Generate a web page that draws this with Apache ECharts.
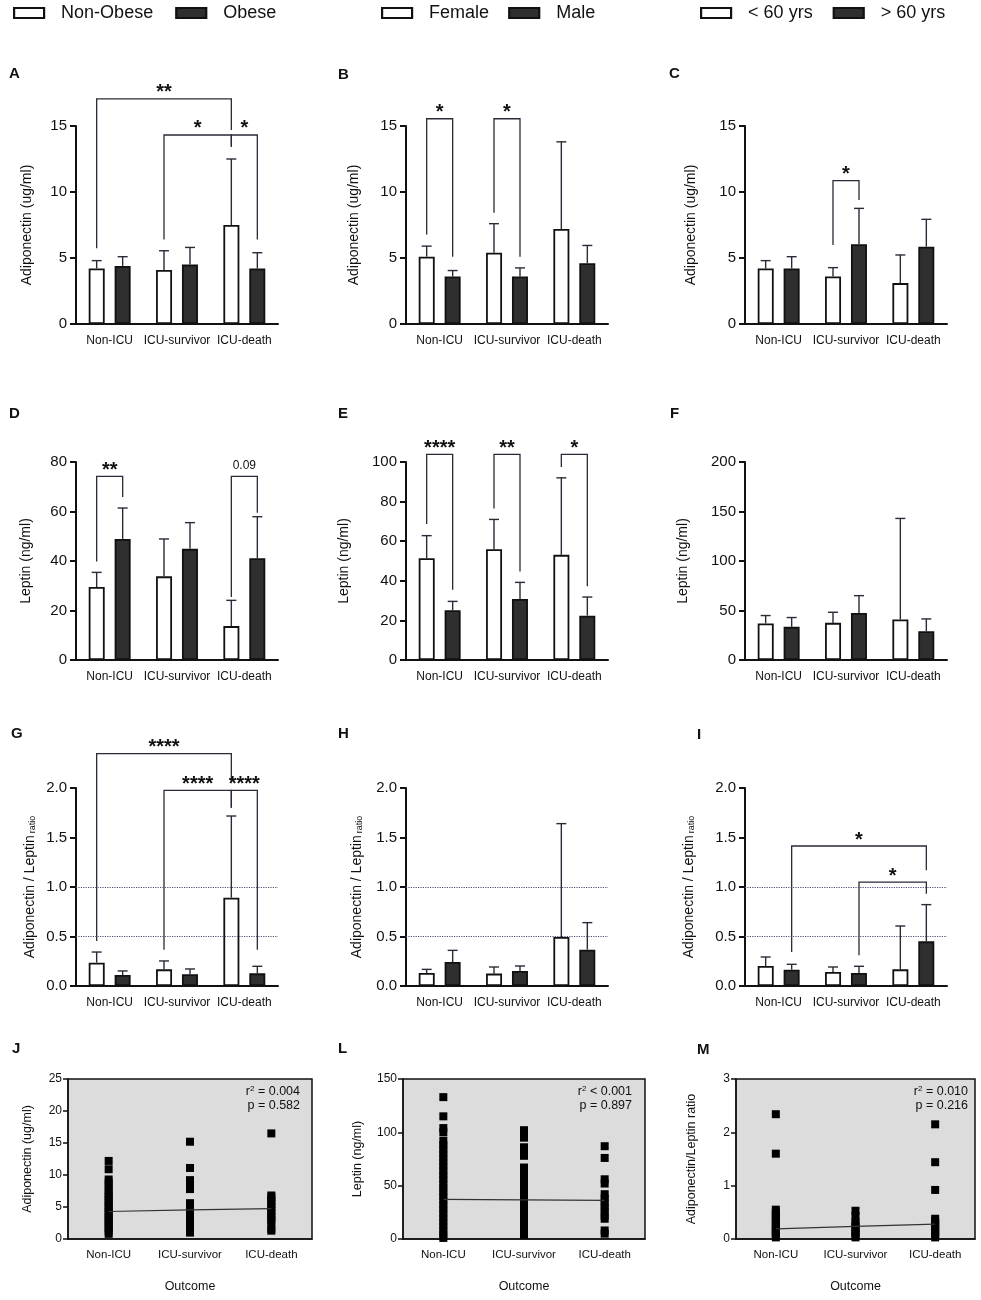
<!DOCTYPE html>
<html lang="en">
<head>
    <meta charset="UTF-8">
    <title>Adiponectin, leptin and ratio by outcome</title>
    <script src="https://cdn.jsdelivr.net/npm/echarts@6/dist/echarts.min.js"></script>
    <style>
        body { margin: 0; background: #fff; }
        #main { width: 981px; height: 1300px; }
    </style>
</head>
<body>
    <div id="main"></div>
    <script>
        // ---- data ----
        const categories = ['Non-ICU', 'ICU-survivor', 'ICU-death'];

        // A: adiponectin (ug/ml) by obesity
        const adipoNonObese = [4.2, 4.1, 7.5];
        const adipoNonObeseErr = [4.8, 5.55, 12.5];
        const adipoObese = [4.4, 4.5, 4.2];
        const adipoObeseErr = [5.1, 5.8, 5.4];
        // B: adiponectin by sex
        const adipoFemale = [5.1, 5.4, 7.2];
        const adipoFemaleErr = [5.9, 7.6, 13.8];
        const adipoMale = [3.6, 3.6, 4.6];
        const adipoMaleErr = [4.05, 4.25, 5.95];
        // C: adiponectin by age
        const adipoUnder60 = [4.2, 3.6, 3.1];
        const adipoUnder60Err = [4.8, 4.27, 5.23];
        const adipoOver60 = [4.2, 6.05, 5.86];
        const adipoOver60Err = [5.1, 8.76, 7.93];
        // D: leptin (ng/ml) by obesity
        const leptinNonObese = [29.5, 33.8, 13.7];
        const leptinNonObeseErr = [35.4, 48.9, 24.1];
        const leptinObese = [48.9, 44.9, 41.1];
        const leptinObeseErr = [61.4, 55.5, 57.9];
        // E: leptin by sex
        const leptinFemale = [51.4, 55.9, 53.1];
        const leptinFemaleErr = [62.8, 71.0, 92.0];
        const leptinMale = [25.1, 30.8, 22.4];
        const leptinMaleErr = [29.6, 39.2, 31.8];
        // F: leptin by age
        const leptinUnder60 = [36.9, 37.5, 40.9];
        const leptinUnder60Err = [44.9, 48.2, 143];
        const leptinOver60 = [33.5, 47.6, 29.1];
        const leptinOver60Err = [42.9, 65.0, 41.5];
        // G: adiponectin / leptin ratio by obesity
        const ratioNonObese = [0.236, 0.168, 0.892];
        const ratioNonObeseErr = [0.343, 0.253, 1.717];
        const ratioObese = [0.111, 0.118, 0.128];
        const ratioObeseErr = [0.152, 0.172, 0.199];
        // H: ratio by sex
        const ratioFemale = [0.131, 0.125, 0.495];
        const ratioFemaleErr = [0.168, 0.192, 1.64];
        const ratioMale = [0.242, 0.152, 0.367];
        const ratioMaleErr = [0.36, 0.202, 0.64];
        // I: ratio by age
        const ratioUnder60 = [0.202, 0.141, 0.168];
        const ratioUnder60Err = [0.293, 0.192, 0.606];
        const ratioOver60 = [0.165, 0.131, 0.451];
        const ratioOver60Err = [0.219, 0.199, 0.822];
        const ratioRefLines = [0.5, 1.0];

        // significance brackets: [fromCat, fromBar, toCat, toBar, top, fromEnd, toEnd, label]
        const bracketsA = [[0, 0, 2, 0, 17.05, 5.73, 14.7, '**'], [1, 0, 2, 0, 14.32, 6.41, 13.43, '*'], [2, 0, 2, 1, 14.32, 13.43, 6.41, '*']];
        const bracketsB = [[0, 0, 0, 1, 15.55, 6.78, 5.09, '*'], [1, 0, 1, 1, 15.55, 8.42, 5.09, '*']];
        const bracketsC = [[1, 0, 1, 1, 10.86, 5.98, 9.39, '*']];
        const bracketsD = [[0, 0, 0, 1, 74.2, 39.8, 65.9, '**'], [2, 0, 2, 1, 74.2, 25.5, 59.5, '0.09']];
        const bracketsE = [[0, 0, 0, 1, 103.9, 68.7, 35.5, '****'], [1, 0, 1, 1, 103.9, 76.5, 44.7, '**'], [2, 0, 2, 1, 103.9, 97.5, 37.2, '*']];
        const bracketsG = [[0, 0, 2, 0, 2.347, 0.455, 2.06, '****'], [1, 0, 2, 0, 1.976, 0.367, 1.80, '****'], [2, 0, 2, 1, 1.976, 1.80, 0.367, '****']];
        const bracketsI = [[0, 1, 2, 1, 1.414, 0.343, 1.168, '*'], [1, 1, 2, 1, 1.05, 0.31, 0.933, '*']];

        // J: adiponectin individual values
        const jNonIcu = [0.8, 1.2, 1.7, 2.1, 2.6, 3.0, 3.4, 3.9, 4.3, 4.8, 5.2, 5.7, 6.1, 6.6, 7.1, 7.6, 8.2, 8.8, 9.3, 10.9, 12.2];
        const jSurvivor = [1.0, 1.5, 2.0, 2.5, 3.0, 3.5, 3.9, 4.4, 4.8, 5.2, 5.6, 7.8, 8.7, 9.2, 11.1, 15.2];
        const jDeath = [1.3, 1.6, 2.6, 3.0, 3.5, 4.0, 4.5, 5.0, 5.5, 6.0, 6.5, 6.8, 16.5];
        const jFit = [4.3, 4.55, 4.75];
        // L: leptin individual values
        const lNonIcu = [1, 4, 8, 12, 16, 20, 24, 28, 32, 36, 40, 44, 48, 52, 56, 60, 64, 68, 72, 76, 80, 84, 88, 92, 100, 104, 115, 133];
        const lSurvivor = [4, 8, 12, 16, 20, 24, 28, 32, 36, 40, 44, 48, 52, 56, 60, 64, 67, 78, 82, 86, 95, 102];
        const lDeath = [5, 8, 19, 22, 26, 30, 34, 38, 42, 52, 56, 76, 87];
        const lFit = [37.1, 36.7, 36.2];
        // M: ratio individual values
        const mNonIcu = [0.03, 0.08, 0.12, 0.16, 0.2, 0.25, 0.3, 0.35, 0.4, 0.45, 0.5, 0.55, 1.6, 2.34];
        const mSurvivor = [0.03, 0.08, 0.12, 0.17, 0.22, 0.27, 0.32, 0.43, 0.53];
        const mDeath = [0.03, 0.08, 0.13, 0.18, 0.23, 0.28, 0.33, 0.38, 0.92, 1.44, 2.15];
        const mFit = [0.19, 0.235, 0.28];

        // ---- drawing ----
        const FONT = 'Arial, "Liberation Sans", Helvetica, sans-serif';
        const INK = '#111';
        const LINE = '#2a2a38';
        const BAR_W = 16, BAR_OFF = 13;
        const WHITE = '#ffffff', DARK = '#2f2f2f';

        var chart = echarts.init(document.getElementById('main'));
        var option = {
            animation: false,
            backgroundColor: '#fff',
            textStyle: { fontFamily: FONT, color: INK },
            legend: [],
            grid: [], xAxis: [], yAxis: [], series: [], graphic: []
        };

        const nameRich = {
            n: { fontSize: 14, color: INK, lineHeight: 18, verticalAlign: 'bottom' },
            s: { fontSize: 9, color: INK, lineHeight: 9, verticalAlign: 'bottom', padding: [0, 0, 0, 2] }
        };

        function errorSeries(idx, mean, top, side) {
            return {
                type: 'custom', xAxisIndex: idx, yAxisIndex: idx, clip: false, silent: true, z: 3,
                data: mean.map((m, k) => [k, top[k], m]),
                encode: { x: 0, y: 1 },
                renderItem: function (params, api) {
                    const x = api.coord([api.value(0), 0])[0] + side * BAR_OFF;
                    const y0 = api.coord([api.value(0), api.value(2)])[1];
                    const y1 = api.coord([api.value(0), api.value(1)])[1];
                    const st = { stroke: LINE, lineWidth: 1.4 };
                    return {
                        type: 'group', children: [
                            { type: 'line', shape: { x1: x, y1: y0, x2: x, y2: y1 }, style: st },
                            { type: 'line', shape: { x1: x - 5, y1: y1, x2: x + 5, y2: y1 }, style: st }
                        ]
                    };
                }
            };
        }

        function bracketSeries(idx, list) {
            return {
                type: 'custom', xAxisIndex: idx, yAxisIndex: idx, clip: false, silent: true, z: 4,
                data: list.map(b => [b[0], b[4]]),
                encode: { x: 0, y: 1 },
                renderItem: function (params, api) {
                    const b = list[params.dataIndex];
                    const xa = api.coord([b[0], 0])[0] + (b[1] ? 1 : -1) * BAR_OFF;
                    const xb = api.coord([b[2], 0])[0] + (b[3] ? 1 : -1) * BAR_OFF;
                    const yt = api.coord([0, b[4]])[1];
                    const ya = api.coord([0, b[5]])[1];
                    const yb = api.coord([0, b[6]])[1];
                    const stars = b[7].charAt(0) === '*';
                    return {
                        type: 'group', children: [
                            {
                                type: 'polyline',
                                shape: { points: [[xa, ya], [xa, yt], [xb, yt], [xb, yb]] },
                                style: { stroke: LINE, lineWidth: 1.3, fill: null }
                            },
                            {
                                type: 'text',
                                style: {
                                    x: (xa + xb) / 2, y: stars ? yt - 6 : yt - 11, text: b[7],
                                    align: 'center', verticalAlign: 'middle', fontFamily: FONT,
                                    fontSize: stars ? 20 : 12, fontWeight: stars ? 'bold' : 'normal', fill: INK
                                }
                            }
                        ]
                    };
                }
            };
        }

        function addBarPanel(p) {
            const idx = option.grid.length;
            option.grid.push({ left: p.left, top: p.top, width: 202, height: 198 });
            option.xAxis.push({
                type: 'category', gridIndex: idx, data: categories,
                axisLine: { lineStyle: { color: INK, width: 2 } },
                axisTick: { alignWithLabel: true, length: 6, lineStyle: { color: INK, width: 2 } },
                axisLabel: { color: INK, fontSize: 12, margin: 11, interval: 0 }
            });
            option.yAxis.push({
                type: 'value', gridIndex: idx, min: 0, max: p.max, interval: p.interval,
                name: p.name, nameLocation: 'middle', nameGap: p.nameGap,
                nameTextStyle: { fontSize: 14, color: INK, rich: nameRich },
                axisLine: { show: true, lineStyle: { color: INK, width: 2 } },
                axisTick: { show: true, length: 6, lineStyle: { color: INK, width: 2 } },
                axisLabel: { color: INK, fontSize: 15, margin: 9, formatter: p.fmt },
                splitLine: { show: false }
            });
            p.groups.forEach(function (g, k) {
                const s = {
                    type: 'bar', name: g.name, xAxisIndex: idx, yAxisIndex: idx, data: g.mean,
                    barWidth: BAR_W, barGap: '62%', z: 2,
                    itemStyle: { color: g.fill, borderColor: INK, borderWidth: 1.8 }
                };
                if (k === 0 && p.refLines) {
                    s.markLine = {
                        silent: true, symbol: 'none', label: { show: false },
                        lineStyle: { type: 'dotted', color: '#50507a', width: 1.2 },
                        data: p.refLines.map(v => ({ yAxis: v }))
                    };
                }
                option.series.push(s);
            });
            p.groups.forEach(function (g, k) {
                option.series.push(errorSeries(idx, g.mean, g.err, k === 0 ? -1 : 1));
            });
            if (p.brackets) option.series.push(bracketSeries(idx, p.brackets));
        }

        function addScatterPanel(p) {
            const idx = option.grid.length;
            option.grid.push({
                left: p.left, top: 1079, width: p.width, height: 160, show: true,
                backgroundColor: '#dcdcdc', borderColor: INK, borderWidth: 1.5
            });
            option.xAxis.push({
                type: 'category', gridIndex: idx, data: categories,
                name: 'Outcome', nameLocation: 'middle', nameGap: 41,
                nameTextStyle: { fontSize: 12.5, color: INK },
                axisLine: { lineStyle: { color: INK, width: 1.5 } },
                axisTick: { alignWithLabel: true, length: 5, lineStyle: { color: INK, width: 1.5 } },
                axisLabel: { color: INK, fontSize: 11.5, margin: 10, interval: 0 }
            });
            option.yAxis.push({
                type: 'value', gridIndex: idx, min: 0, max: p.max, interval: p.interval,
                name: p.name, nameLocation: 'middle', nameGap: p.nameGap,
                nameTextStyle: { fontSize: 12.5, color: INK },
                axisLine: { show: true, lineStyle: { color: INK, width: 1.5 } },
                axisTick: { show: true, length: 5, lineStyle: { color: INK, width: 1.5 } },
                axisLabel: { color: INK, fontSize: 12, margin: 6 },
                splitLine: { show: false }
            });
            const pts = [];
            p.points.forEach((list, k) => list.forEach(v => pts.push([k, v])));
            option.series.push({
                type: 'scatter', xAxisIndex: idx, yAxisIndex: idx, data: pts,
                symbol: 'rect', symbolSize: 8, itemStyle: { color: '#000', opacity: 1 }, z: 2
            });
            option.series.push({
                type: 'line', xAxisIndex: idx, yAxisIndex: idx, data: p.fit,
                symbol: 'none', lineStyle: { color: '#333', width: 1.2 }, z: 3
            });
            const sup = {
                t: { fontSize: 12.5, fill: INK, lineHeight: 14, verticalAlign: 'top', fontFamily: FONT },
                u: { fontSize: 8, fill: INK, lineHeight: 8, verticalAlign: 'top', fontFamily: FONT }
            };
            option.graphic.push({
                type: 'text', x: p.noteRight, y: 1085,
                style: { text: '{t|r}{u|2}{t|' + p.r2 + '}', rich: sup, align: 'right', verticalAlign: 'top' }
            });
            option.graphic.push({
                type: 'text', x: p.noteRight, y: 1099,
                style: { text: p.pText, fontSize: 12.5, fontFamily: FONT, fill: INK, align: 'right', verticalAlign: 'top' }
            });
        }

        const ratioName = '{n|Adiponectin / Leptin}{s|ratio}';
        const fmt1 = v => v.toFixed(1);

        addBarPanel({ left: 76, top: 126, max: 15, interval: 5, name: 'Adiponectin (ug/ml)', nameGap: 42, brackets: bracketsA,
            groups: [{ name: 'Non-Obese', mean: adipoNonObese, err: adipoNonObeseErr, fill: WHITE }, { name: 'Obese', mean: adipoObese, err: adipoObeseErr, fill: DARK }] });
        addBarPanel({ left: 406, top: 126, max: 15, interval: 5, name: 'Adiponectin (ug/ml)', nameGap: 45, brackets: bracketsB,
            groups: [{ name: 'Female', mean: adipoFemale, err: adipoFemaleErr, fill: WHITE }, { name: 'Male', mean: adipoMale, err: adipoMaleErr, fill: DARK }] });
        addBarPanel({ left: 745, top: 126, max: 15, interval: 5, name: 'Adiponectin (ug/ml)', nameGap: 47, brackets: bracketsC,
            groups: [{ name: '< 60 yrs', mean: adipoUnder60, err: adipoUnder60Err, fill: WHITE }, { name: '> 60 yrs', mean: adipoOver60, err: adipoOver60Err, fill: DARK }] });

        addBarPanel({ left: 76, top: 462, max: 80, interval: 20, name: 'Leptin (ng/ml)', nameGap: 43, brackets: bracketsD,
            groups: [{ name: 'Non-Obese', mean: leptinNonObese, err: leptinNonObeseErr, fill: WHITE }, { name: 'Obese', mean: leptinObese, err: leptinObeseErr, fill: DARK }] });
        addBarPanel({ left: 406, top: 462, max: 100, interval: 20, name: 'Leptin (ng/ml)', nameGap: 55, brackets: bracketsE,
            groups: [{ name: 'Female', mean: leptinFemale, err: leptinFemaleErr, fill: WHITE }, { name: 'Male', mean: leptinMale, err: leptinMaleErr, fill: DARK }] });
        addBarPanel({ left: 745, top: 462, max: 200, interval: 50, name: 'Leptin (ng/ml)', nameGap: 55,
            groups: [{ name: '< 60 yrs', mean: leptinUnder60, err: leptinUnder60Err, fill: WHITE }, { name: '> 60 yrs', mean: leptinOver60, err: leptinOver60Err, fill: DARK }] });

        addBarPanel({ left: 76, top: 788, max: 2, interval: 0.5, name: ratioName, nameGap: 39, fmt: fmt1, brackets: bracketsG, refLines: ratioRefLines,
            groups: [{ name: 'Non-Obese', mean: ratioNonObese, err: ratioNonObeseErr, fill: WHITE }, { name: 'Obese', mean: ratioObese, err: ratioObeseErr, fill: DARK }] });
        addBarPanel({ left: 406, top: 788, max: 2, interval: 0.5, name: ratioName, nameGap: 42, fmt: fmt1, refLines: ratioRefLines,
            groups: [{ name: 'Female', mean: ratioFemale, err: ratioFemaleErr, fill: WHITE }, { name: 'Male', mean: ratioMale, err: ratioMaleErr, fill: DARK }] });
        addBarPanel({ left: 745, top: 788, max: 2, interval: 0.5, name: ratioName, nameGap: 49, fmt: fmt1, brackets: bracketsI, refLines: ratioRefLines,
            groups: [{ name: '< 60 yrs', mean: ratioUnder60, err: ratioUnder60Err, fill: WHITE }, { name: '> 60 yrs', mean: ratioOver60, err: ratioOver60Err, fill: DARK }] });

        addScatterPanel({ left: 68, width: 244, max: 25, interval: 5, name: 'Adiponectin (ug/ml)', nameGap: 34,
            points: [jNonIcu, jSurvivor, jDeath], fit: jFit, noteRight: 300, r2: ' = 0.004', pText: 'p = 0.582' });
        addScatterPanel({ left: 403, width: 242, max: 150, interval: 50, name: 'Leptin (ng/ml)', nameGap: 39,
            points: [lNonIcu, lSurvivor, lDeath], fit: lFit, noteRight: 632, r2: ' < 0.001', pText: 'p = 0.897' });
        addScatterPanel({ left: 736, width: 239, max: 3, interval: 1, name: 'Adiponectin/Leptin ratio', nameGap: 38,
            points: [mNonIcu, mSurvivor, mDeath], fit: mFit, noteRight: 968, r2: ' = 0.010', pText: 'p = 0.216' });

        // legends across the top
        const legendBase = {
            top: 4, padding: 0, icon: 'rect', itemWidth: 30, itemHeight: 10, selectedMode: false,
            itemStyle: { borderWidth: 2.2 },
            textStyle: { fontSize: 18, color: INK, fontFamily: FONT, padding: [0, 0, 0, 12] }
        };
        option.legend = [
            Object.assign({}, legendBase, { left: 13, itemGap: 22, data: ['Non-Obese', 'Obese'] }),
            Object.assign({}, legendBase, { left: 381, itemGap: 19, data: ['Female', 'Male'] }),
            Object.assign({}, legendBase, { left: 700, itemGap: 20, data: ['< 60 yrs', '> 60 yrs'] })
        ];

        // panel letters
        const letters = [['A', 9, 66], ['B', 338, 67], ['C', 669, 66], ['D', 9, 406], ['E', 338, 406], ['F', 670, 406],
            ['G', 11, 726], ['H', 338, 726], ['I', 697, 727], ['J', 12, 1041], ['L', 338, 1041], ['M', 697, 1042]];
        letters.forEach(function (l) {
            option.graphic.push({
                type: 'text', x: l[1], y: l[2],
                style: { text: l[0], fontSize: 15, fontWeight: 'bold', fontFamily: FONT, fill: INK, verticalAlign: 'top' }
            });
        });

        chart.setOption(option);
    </script>
</body>
</html>
